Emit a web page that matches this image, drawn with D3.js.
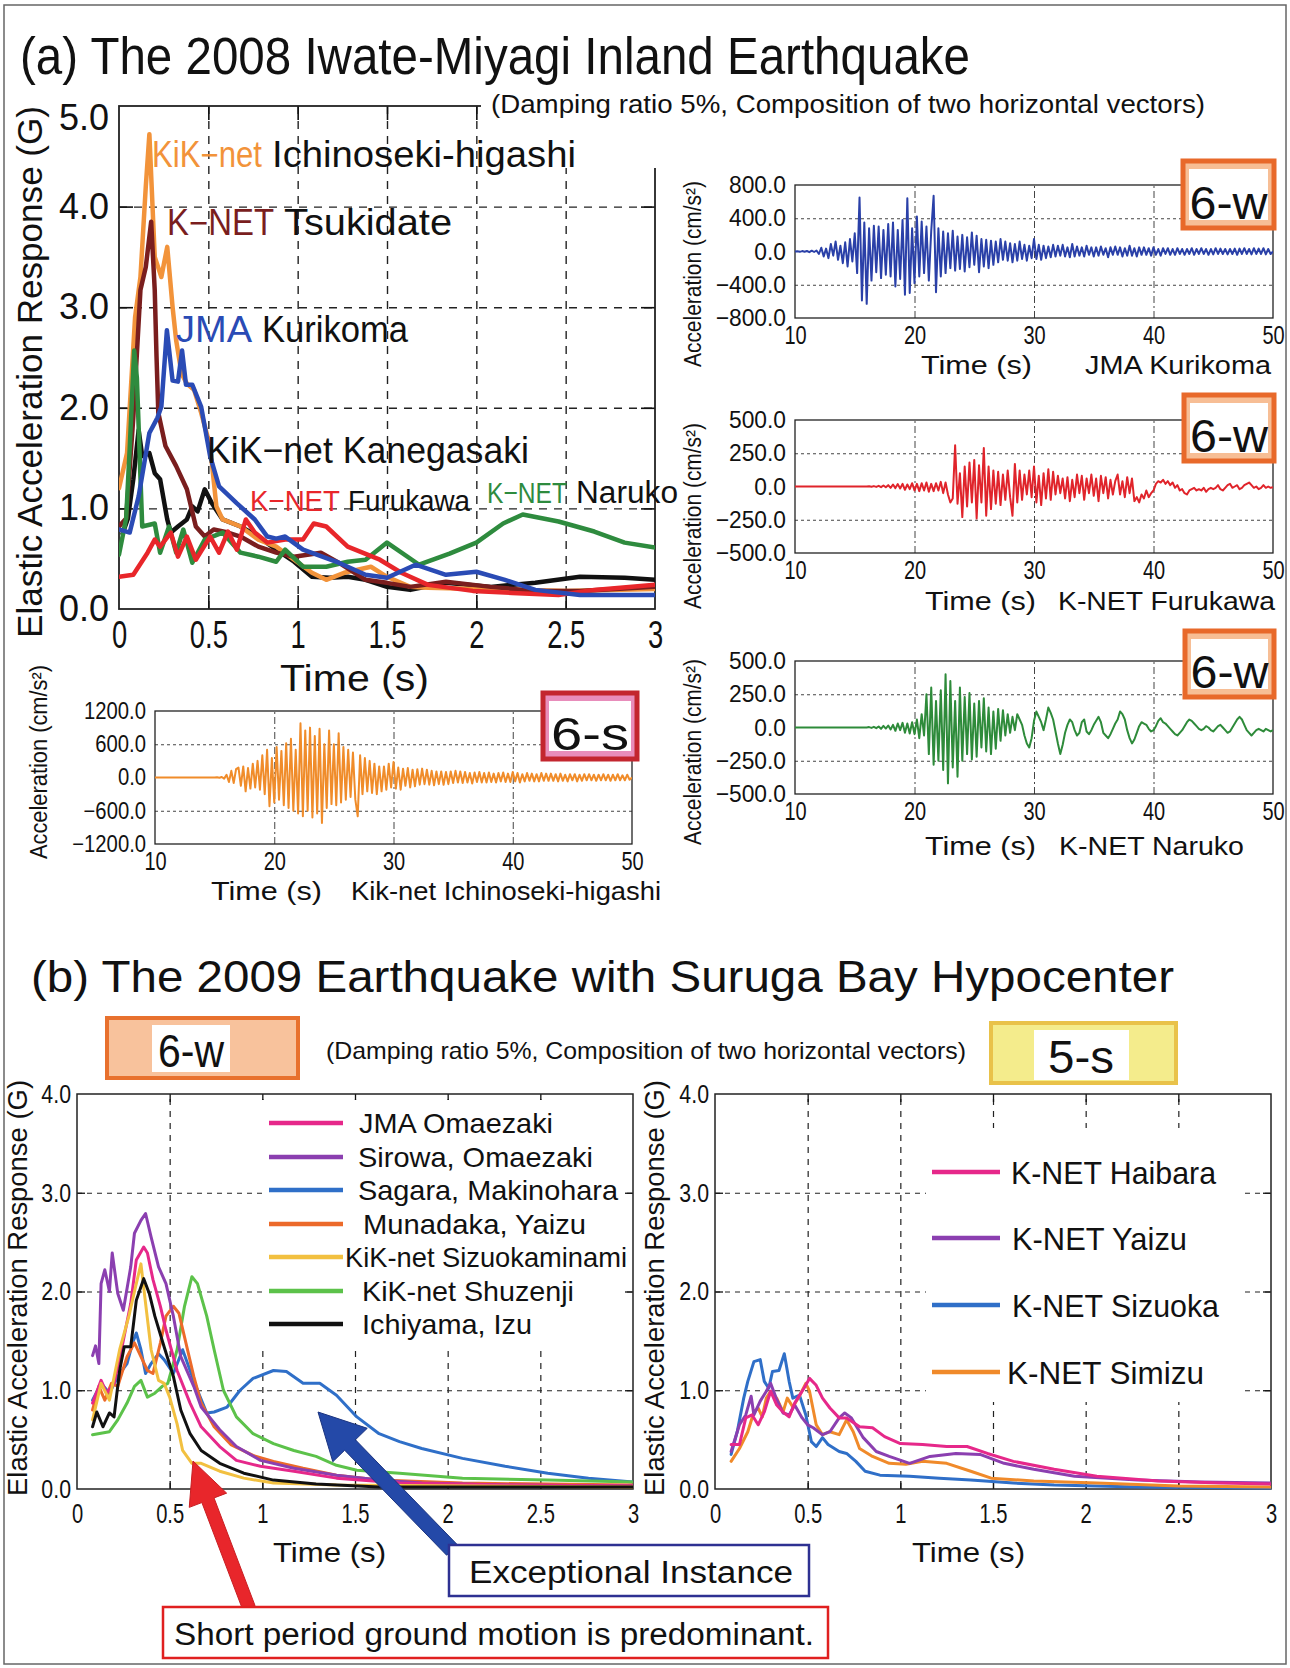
<!DOCTYPE html>
<html><head><meta charset="utf-8">
<script src="https://d3js.org/d3.v7.min.js"></script>
<style>
html,body{margin:0;padding:0;background:#fff;}
svg{display:block;}
text{font-family:"Liberation Sans", Arial, Helvetica, sans-serif;}
</style></head>
<body>
<svg id="fig" width="1290" height="1668" viewBox="0 0 1290 1668"></svg>
<script>
// ================= DATA =================
const periodTicks = [0, 0.5, 1, 1.5, 2, 2.5, 3];
const periodGrid = [0.5, 1, 1.5, 2, 2.5];
const gTicksA = [0, 1, 2, 3, 4, 5];
const gTicksB = [0, 1, 2, 3, 4];
const timeTicks = [10, 20, 30, 40, 50];
const timeGrid = [20, 30, 40];
const accTicks800 = [-800, -400, 0, 400, 800];
const accTicks500 = [-500, -250, 0, 250, 500];
const accTicks1200 = [-1200, -600, 0, 600, 1200];

// (a) 2008 Iwate-Miyagi : response spectra (period s, G)
const ichinosekiT = [0,0.045,0.06,0.09,0.12,0.15,0.17,0.2,0.237,0.27,0.3,0.32,0.35,0.38,0.42,0.46,0.49,0.51,0.545,0.58,0.68,0.78,0.88,0.98,1.08,1.16,1.26,1.41,1.5,1.63,1.73,2.0,2.5,3.0];
const ichinosekiG = [1.2,1.55,2.0,2.9,3.3,4.2,4.72,3.5,3.3,3.6,3.0,2.67,2.34,2.24,2.18,1.95,1.75,1.62,1.02,0.89,0.82,0.69,0.62,0.49,0.36,0.29,0.36,0.42,0.32,0.22,0.21,0.2,0.18,0.2];
const tsukidateT = [0,0.04,0.08,0.12,0.15,0.18,0.2,0.21,0.22,0.26,0.32,0.38,0.43,0.48,0.53,0.61,0.68,0.78,0.88,0.98,1.13,1.23,1.38,1.5,1.63,1.83,2.08,2.33,2.58,3.0];
const tsukidateG = [0.82,0.9,1.9,3.17,3.4,3.85,3.17,2.51,1.95,1.62,1.42,1.19,0.82,0.72,0.79,0.76,0.72,0.62,0.56,0.52,0.56,0.46,0.29,0.26,0.22,0.27,0.22,0.18,0.18,0.22];
const kurikomaT = [0,0.06,0.11,0.17,0.215,0.237,0.268,0.3,0.33,0.353,0.375,0.41,0.46,0.51,0.56,0.66,0.76,0.83,0.88,0.93,1.03,1.23,1.38,1.5,1.66,1.83,2.0,2.16,2.33,2.58,3.0];
const kurikomaG = [0.79,0.76,1.12,1.75,1.9,2.01,2.77,2.27,2.26,2.57,2.23,2.23,2.01,1.52,1.22,1.05,0.89,0.72,0.7,0.72,0.59,0.46,0.34,0.31,0.44,0.34,0.37,0.29,0.19,0.14,0.14];
const kanegasakiT = [0.02,0.05,0.08,0.11,0.13,0.17,0.2,0.23,0.27,0.29,0.33,0.38,0.41,0.44,0.48,0.52,0.58,0.68,0.78,0.88,0.98,1.08,1.18,1.28,1.38,1.5,1.63,1.83,2.08,2.33,2.58,2.83,3.0];
const kanegasakiG = [0.75,0.9,1.29,1.78,1.52,1.55,1.35,1.29,0.89,0.76,0.82,0.89,1.02,0.97,1.19,1.05,0.89,0.82,0.72,0.59,0.47,0.32,0.31,0.32,0.29,0.22,0.19,0.26,0.22,0.26,0.32,0.31,0.29];
const furukawaT = [0,0.08,0.16,0.2,0.23,0.29,0.33,0.38,0.43,0.51,0.56,0.61,0.66,0.71,0.76,0.83,0.93,1.03,1.09,1.16,1.28,1.46,1.58,1.73,1.98,2.2,2.46,2.66,3.0];
const furukawaG = [0.32,0.34,0.56,0.69,0.62,0.76,0.52,0.72,0.49,0.72,0.56,0.77,0.59,0.89,0.76,0.66,0.69,0.69,0.85,0.82,0.62,0.49,0.36,0.24,0.18,0.16,0.14,0.19,0.24];
const narukoT = [0,0.04,0.06,0.085,0.1,0.13,0.2,0.23,0.28,0.32,0.36,0.41,0.48,0.58,0.68,0.78,0.88,0.93,1.03,1.16,1.28,1.38,1.5,1.68,1.85,2.0,2.15,2.26,2.46,2.66,2.83,3.0];
const narukoG = [0.54,0.9,1.6,2.57,2.3,0.82,0.85,0.56,0.82,0.56,0.79,0.46,0.69,0.76,0.56,0.52,0.47,0.59,0.42,0.42,0.47,0.49,0.66,0.44,0.55,0.66,0.85,0.94,0.87,0.77,0.66,0.61];

// (a) acceleration records, 10 s to 50 s, one sample each 0.2 s (cm/s2)
const waveStart = 10, waveStep = 0.2;
const kurikomaWave = [0,3,-4,5,-3, 6,-8,10,-6,12, -30,45,-60,35,-80, 90,-50,120,-100,70, -140,110,-180,150,-120, 220,-260,650,-590,350, -630,280,-350,310,-250, 300,-320,260,-280,330, -300,350,-420,260,-330, 380,-520,640,-500,280, -380,420,-300,360,-260, 300,-350,250,670,-490, 280,-300,240,-260,220, -200,250,-230,180,-210, 200,-240,170,-190,230, -160,190,-250,150,-180, 140,-200,130,-160,120, -130,150,-100,120,-110, 100,-130,90,-110,120, -90,80,-110,70,-80, 150,-90,80,-100,70, -80,60,-70,80,-60, 70,-50,80,-60,50, -70,90,-60,60,-50, 50,-60,70,-40,50, -60,50,-50,60,-40, 40,-70,50,-40,60, -40,50,-60,40,-50, 70,-50,40,-60,50, -40,50,-40,40,-50, 50,-40,30,-50,40, -30,40,-40,30,-40, 40,-30,30,-40,30, -30,40,-40,30,-30, 40,-30,30,-40,30, -35,40,-30,35,-30, 30,-35,30,-30,35, -40,35,-30,40,-30, 30,-35,40,-30,35, -30,40,-35,30,-30, 0];
const furukawaWave = [0,0,0,0,0, 0,0,0,0,0, 0,0,0,0,0, 0,0,0,0,0, 0,0,0,0,0, 0,0,0,0,0, 0,2,-2,3,-3, 5,-5,8,-6,10, -10,15,-12,18,-15, 20,-25,15,-20,25, -30,20,-35,25,-30, 30,-40,20,-35,25, -30,35,-50,30,-60, -120,-90,310,-130,100, -230,150,-150,180,-120, 200,-240,160,-120,290, -220,150,-170,120,-130, 110,-140,90,-100,120, -80,-220,170,-120,120, -100,90,-60,120,-80, 150,-120,80,-140,100, -90,130,-100,110,-60, 80,-50,60,-90,70, -110,50,-80,90,-50, 80,-100,60,-50,90, -70,60,-110,80,-50, 70,-90,50,-60,40, 90,-60,40,-80,70, -50,60,-110,-80,-120, -60,-90,-30,-80,-50, -30,20,40,30,50, 20,40,10,30,-10, 10,-30,-20,-50,-60, -30,-20,-10,-30,-20, -30,-10,-40,-20,-10, -20,-10,10,-20,-30, -10,10,20,-10,0, 10,-20,-10,10,20, 30,10,-10,0,-20, -10,10,-10,0,-10, -5];
const narukoWave = [0,0,0,0,0, 0,0,0,0,0, 0,0,0,0,0, 0,0,0,0,0, 0,0,0,0,0, 0,0,0,0,0, 0,3,-3,5,-5, 8,-10,12,-8,15, -15,20,-25,30,-20, 35,-40,30,-45,40, -50,60,-80,100,-60, 250,-200,300,-280,200, -250,280,-320,400,-420, 350,-300,200,-370,300, -250,230,-200,260,-240, 180,-220,200,-150,220, -180,150,-200,120,-160, 140,-100,130,-60,100, -40,80,-20,100,60, 20,-60,-120,-150,-80, 50,120,80,40,-20, 60,150,110,60,-30, -120,-200,-130,-40,20, 60,40,-20,-60,-40, 40,60,-30,-50,-20, 20,50,80,40,-40, -60,-80,-50,-10,30, 60,120,100,60,-20, -80,-120,-90,-40,10, 40,30,20,-10,-30, -20,10,50,70,40, 30,10,-10,-30,-50, -60,-40,-20,10,40, 60,50,30,10,-10, -20,-10,10,0,-20, -30,-10,10,20,0, -20,-40,-30,0,30, 60,80,60,20,-20, -40,-60,-40,-20,-10, -20,-30,-10,-20,-30, -20];
const ichinosekiWave = [0,0,0,0,0, 0,0,0,0,0, 0,0,0,0,0, 0,0,0,0,0, 0,0,0,0,0, 0,5,-5,10,-20, 50,-80,120,-100,150, 180,-150,200,-250,170, -200,250,-180,300,-220, 400,-300,500,-520,350, -450,550,-400,480,-500, 620,-550,700,-600,500, -650,980,-700,850,-600, 900,-720,750,-650,880, -820,600,-550,850,-480, 600,-500,800,-450,550, -400,500,-350,450,-400, -700,400,-300,350,-250, 300,-280,250,-300,200, -250,200,-220,250,-180, 280,-200,180,-220,160, -150,170,-180,140,-160, 150,-130,160,-120,140, -130,120,-140,110,-120, 110,-130,100,-120,110, -100,120,-90,110,-100, 100,-90,80,-110,90, -80,100,-90,80,-90, 90,-80,70,-90,80, -70,90,-80,70,-80, 100,-70,80,-90,60, -70,80,-60,70,-70, 60,-70,80,-60,70, -60,70,-60,60,-70, 70,-60,50,-70,60, -50,60,-70,50,-60, 60,-50,60,-50,50, -60,50,-50,60,-50, 50,-60,50,-50,60, -50,40,-50,50,-40, 0];

// (b) 2009 Suruga Bay : 6-w group
const omaezakiT = [0.084,0.13,0.16,0.2,0.24,0.29,0.32,0.36,0.38,0.41,0.45,0.48,0.54,0.61,0.67,0.77,0.86,0.99,1.17,1.4,1.74,2.31,3.0];
const omaezakiG = [0.87,1.1,0.97,1.07,1.41,1.88,2.32,2.45,2.39,2.12,1.85,1.61,1.2,0.87,0.63,0.43,0.29,0.23,0.18,0.11,0.06,0.04,0.03];
const sirowaT = [0.084,0.1,0.118,0.13,0.15,0.175,0.19,0.22,0.25,0.29,0.31,0.345,0.37,0.4,0.44,0.48,0.52,0.56,0.63,0.67,0.77,0.86,0.99,1.17,1.4,1.63,1.86,2.31,3.0];
const sirowaG = [1.35,1.45,1.27,2.08,2.22,2.0,2.39,1.98,1.81,2.25,2.59,2.72,2.79,2.55,2.25,2.08,1.75,1.34,1.04,0.83,0.6,0.43,0.29,0.21,0.14,0.09,0.06,0.04,0.03];
const sagaraT = [0.084,0.13,0.175,0.22,0.27,0.3,0.32,0.345,0.37,0.4,0.44,0.47,0.52,0.57,0.61,0.65,0.7,0.74,0.81,0.88,0.95,1.06,1.13,1.22,1.31,1.4,1.51,1.63,1.74,1.86,2.08,2.31,2.54,2.76,3.0];
const sagaraG = [0.9,1.07,0.97,1.14,1.27,1.48,1.58,1.41,1.17,1.27,1.37,1.31,1.17,1.41,1.2,1.0,0.77,0.78,0.83,1.0,1.12,1.2,1.19,1.07,1.07,0.95,0.73,0.56,0.48,0.41,0.31,0.23,0.16,0.11,0.07];
const munadakaT = [0.084,0.118,0.15,0.186,0.22,0.27,0.31,0.345,0.38,0.41,0.45,0.48,0.52,0.55,0.58,0.63,0.67,0.74,0.83,0.95,1.06,1.22,1.4,1.63,2.08,3.0];
const munadakaG = [0.8,1.04,0.9,1.07,1.04,1.34,1.48,1.34,1.2,1.17,1.48,1.75,1.85,1.78,1.54,1.14,0.87,0.63,0.45,0.34,0.28,0.21,0.14,0.09,0.06,0.04];
const sizuokaminamiT = [0.084,0.13,0.175,0.23,0.28,0.31,0.345,0.37,0.4,0.44,0.47,0.5,0.54,0.57,0.62,0.67,0.77,0.9,1.06,1.4,3.0];
const sizuokaminamiG = [0.7,1.07,0.9,1.41,1.75,2.0,2.28,1.88,1.41,1.1,1.07,0.93,0.66,0.39,0.26,0.26,0.18,0.11,0.06,0.04,0.02];
const shuzenjiT = [0.084,0.175,0.22,0.27,0.31,0.345,0.38,0.42,0.46,0.49,0.54,0.58,0.62,0.65,0.7,0.74,0.79,0.86,0.95,1.06,1.17,1.29,1.4,1.51,1.74,2.08,2.54,3.0];
const shuzenjiG = [0.55,0.58,0.7,0.87,1.04,1.1,0.93,0.97,1.04,1.07,1.41,1.85,2.15,2.08,1.75,1.41,1.0,0.73,0.56,0.46,0.39,0.33,0.24,0.19,0.16,0.11,0.09,0.07];
const ichiyamaT = [0.084,0.107,0.14,0.175,0.2,0.23,0.255,0.29,0.32,0.36,0.39,0.42,0.47,0.52,0.56,0.61,0.67,0.77,0.9,1.06,1.29,1.63,3.0];
const ichiyamaG = [0.63,0.78,0.63,0.77,0.73,1.2,1.44,1.44,1.91,2.13,1.98,1.75,1.44,1.14,0.8,0.56,0.39,0.26,0.16,0.09,0.05,0.02,0.02];

// (b) 5-s group
const haibaraT = [0.087,0.132,0.166,0.2,0.233,0.266,0.3,0.333,0.367,0.4,0.43,0.48,0.51,0.546,0.58,0.62,0.67,0.71,0.78,0.85,0.915,1.0,1.12,1.25,1.36,1.47,1.61,1.83,2.06,2.39,2.73,3.0];
const haibaraG = [0.45,0.45,0.72,0.75,0.65,0.78,0.99,0.85,0.78,0.73,0.87,1.02,1.12,1.05,0.92,0.82,0.72,0.72,0.63,0.62,0.53,0.46,0.45,0.43,0.43,0.36,0.28,0.2,0.13,0.08,0.06,0.05];
const yaizuT = [0.087,0.132,0.166,0.195,0.21,0.244,0.277,0.3,0.33,0.367,0.4,0.43,0.47,0.5,0.53,0.58,0.62,0.67,0.7,0.736,0.8,0.87,0.94,1.05,1.16,1.3,1.43,1.56,1.72,1.94,2.28,2.62,3.0];
const yaizuG = [0.38,0.65,0.75,0.94,0.75,0.89,0.99,1.07,0.92,0.77,0.75,0.85,0.72,0.65,0.62,0.55,0.58,0.72,0.77,0.72,0.52,0.38,0.33,0.26,0.33,0.36,0.35,0.26,0.2,0.13,0.09,0.07,0.06];
const sizuokaT = [0.087,0.12,0.155,0.177,0.21,0.244,0.266,0.29,0.31,0.345,0.374,0.4,0.42,0.456,0.49,0.52,0.546,0.58,0.61,0.67,0.71,0.76,0.81,0.89,1.05,1.21,1.38,1.61,1.83,2.28,3.0];
const sizuokaG = [0.35,0.58,0.92,1.09,1.29,1.31,1.09,1.02,1.19,1.2,1.37,1.09,0.92,0.95,0.75,0.48,0.43,0.52,0.45,0.38,0.36,0.28,0.18,0.14,0.13,0.11,0.09,0.06,0.04,0.02,0.01];
const simizuT = [0.087,0.132,0.177,0.21,0.233,0.255,0.277,0.3,0.333,0.367,0.39,0.42,0.455,0.49,0.51,0.546,0.58,0.62,0.67,0.71,0.746,0.78,0.85,0.94,1.03,1.12,1.25,1.38,1.49,1.72,2.06,2.5,3.0];
const simizuG = [0.28,0.41,0.58,0.78,0.82,0.73,0.92,0.99,0.92,0.78,0.92,0.83,0.94,1.07,0.99,0.65,0.55,0.58,0.55,0.7,0.58,0.41,0.33,0.26,0.25,0.28,0.26,0.18,0.11,0.08,0.06,0.03,0.02];

const legendB1 = ["JMA Omaezaki","Sirowa, Omaezaki","Sagara, Makinohara","Munadaka, Yaizu","KiK-net Sizuokaminami","KiK-net Shuzenji","Ichiyama, Izu"];
const legendB2 = ["K-NET Haibara","K-NET Yaizu","K-NET Sizuoka","K-NET Simizu"];

// ================= DRAWING =================
const FONT = '"Liberation Sans", Arial, Helvetica, sans-serif';
const svg = d3.select("#fig");
svg.append("rect").attr("width",1290).attr("height",1668).attr("fill","#fff");
svg.append("rect").attr("x",4).attr("y",5).attr("width",1282).attr("height",1659)
  .attr("fill","none").attr("stroke","#666").attr("stroke-width",1.5);

function txt(x, y, s, size, o = {}) {
  const t = svg.append("text").attr("x", x).attr("y", y).attr("font-size", size)
    .attr("font-family", FONT).attr("fill", o.fill || "#111");
  if (o.len) t.attr("textLength", o.len).attr("lengthAdjust", "spacingAndGlyphs");
  if (o.anchor) t.attr("text-anchor", o.anchor);
  if (o.rot) t.attr("transform", `rotate(-90,${x},${y})`);
  t.text(s);
  return t;
}
function styleTickText(sel, size, sx) {
  sel.select(".domain").remove();
  sel.selectAll(".tick line").remove();
  sel.selectAll(".tick text").attr("font-size", size).attr("font-family", FONT).attr("fill", "#111")
    .each(function () {
      if (sx !== 1) {
        const t = d3.select(this);
        const xv = +(t.attr("x") || 0);
        t.attr("x", xv / sx).attr("transform", `scale(${sx},1)`);
      }
    });
}
function grid(g, x, y, xg, yg, st) {
  const [X0, X1] = x.range(), [Y0, Y1] = y.range();
  g.append("g").attr("transform", `translate(0,${Y0})`)
    .call(d3.axisBottom(x).tickValues(xg).tickSize(-(Y0 - Y1)).tickFormat(""))
    .call(s => { s.select(".domain").remove();
      s.selectAll(".tick line").attr("stroke", st.c).attr("stroke-width", st.w).attr("stroke-dasharray", st.vd); });
  g.append("g").attr("transform", `translate(${X0},0)`)
    .call(d3.axisLeft(y).tickValues(yg).tickSize(-(X1 - X0)).tickFormat(""))
    .call(s => { s.select(".domain").remove();
      s.selectAll(".tick line").attr("stroke", st.c).attr("stroke-width", st.w).attr("stroke-dasharray", st.hd); });
}
function innerTicks(g, x, y, xv, yv, len, w) {
  const [X0, X1] = x.range(), [Y0, Y1] = y.range();
  const st = s => { s.select(".domain").remove(); s.selectAll(".tick line").attr("stroke", "#111").attr("stroke-width", w); };
  g.append("g").attr("transform", `translate(${X0},0)`).call(d3.axisLeft(y).tickValues(yv).tickSize(-len).tickFormat("")).call(st);
  g.append("g").attr("transform", `translate(${X1},0)`).call(d3.axisRight(y).tickValues(yv).tickSize(-len).tickFormat("")).call(st);
  g.append("g").attr("transform", `translate(0,${Y0})`).call(d3.axisBottom(x).tickValues(xv).tickSize(-len).tickFormat("")).call(st);
  g.append("g").attr("transform", `translate(0,${Y1})`).call(d3.axisTop(x).tickValues(xv).tickSize(-len).tickFormat("")).call(st);
}
function frame(g, x, y, w) {
  const [X0, X1] = x.range(), [Y0, Y1] = y.range();
  g.append("rect").attr("x", X0).attr("y", Y1).attr("width", X1 - X0).attr("height", Y0 - Y1)
    .attr("fill", "none").attr("stroke", "#222").attr("stroke-width", w);
}
let clipN = 0;
function clipFor(g, x, y) {
  const [X0, X1] = x.range(), [Y0, Y1] = y.range();
  const id = "clip" + (clipN++);
  svg.append("clipPath").attr("id", id).append("rect").attr("x", X0).attr("y", Y1 - 2).attr("width", X1 - X0).attr("height", Y0 - Y1 + 4);
  return g.append("g").attr("clip-path", `url(#${id})`);
}
function drawSeries(g, x, y, T, G, color, w) {
  const line = d3.line().x(d => x(d[0])).y(d => y(d[1]));
  g.append("path").datum(d3.zip(T, G)).attr("d", line).attr("fill", "none")
    .attr("stroke", color).attr("stroke-width", w).attr("stroke-linejoin", "round").attr("stroke-linecap", "round");
}

// ---------- (a) titles ----------
txt(20, 74, "(a) The 2008 Iwate-Miyagi Inland Earthquake", 51, { len: 950 });

// ---------- (a) main spectrum ----------
{
  const x = d3.scaleLinear().domain([0, 3]).range([119, 655]);
  const y = d3.scaleLinear().domain([0, 5]).range([609, 106]);
  const g = svg.append("g");
  grid(g, x, y, periodGrid, [1, 2, 3, 4], { c: "#222", w: 1.4, vd: "8,7", hd: "8,7" });
  innerTicks(g, x, y, periodGrid, [1, 2, 3, 4], 14, 1.6);
  frame(g, x, y, 1.8);
  g.append("rect").attr("x", 481).attr("y", 98).attr("width", 180).attr("height", 70).attr("fill", "#fff");
  g.append("g").attr("transform", "translate(119,0)")
    .call(d3.axisLeft(y).tickValues(gTicksA).tickFormat(d3.format(".1f")).tickSize(0).tickPadding(10))
    .call(s => styleTickText(s, 36, 1))
    .call(s => s.selectAll(".tick").filter(d => d === 5).select("text").attr("dy", "0.66em"));
  g.append("g").attr("transform", "translate(0,609)")
    .call(d3.axisBottom(x).tickValues(periodTicks).tickFormat(d3.format("~g")).tickSize(0).tickPadding(12))
    .call(s => styleTickText(s, 38, 0.72));
  const c = clipFor(g, x, y);
  drawSeries(c, x, y, kanegasakiT, kanegasakiG, "#111111", 4.5);
  drawSeries(c, x, y, ichinosekiT, ichinosekiG, "#F2933A", 4.5);
  drawSeries(c, x, y, tsukidateT, tsukidateG, "#7A1E1E", 4.5);
  drawSeries(c, x, y, narukoT, narukoG, "#2E8B3E", 4.5);
  drawSeries(c, x, y, furukawaT, furukawaG, "#E8262A", 4.5);
  drawSeries(c, x, y, kurikomaT, kurikomaG, "#2A4BB5", 4.5);

  txt(491, 113, "(Damping ratio 5%, Composition of two horizontal vectors)", 25, { len: 714 });
  txt(152, 167, "KiK−net", 36, { fill: "#F2933A", len: 110 });
  txt(272, 167, "Ichinoseki-higashi", 37, { len: 304 });
  txt(167, 235, "K−NET", 36, { fill: "#7A1E1E", len: 107 });
  txt(284, 235, "Tsukidate", 37, { len: 168 });
  txt(176, 342, "JMA", 36, { fill: "#2A4BB5", len: 76 });
  txt(262, 342, "Kurikoma", 37, { len: 146 });
  txt(207, 463, "KiK−net Kanegasaki", 37, { len: 322 });
  txt(250, 511, "K−NET", 30, { fill: "#E8262A", len: 90 });
  txt(348, 511, "Furukawa", 29, { len: 122 });
  txt(487, 503, "K−NET", 30, { fill: "#2E8B3E", len: 80 });
  txt(576, 503, "Naruko", 31, { len: 102 });
  txt(280, 691, "Time (s)", 37, { len: 149 });
  txt(42, 372, "Elastic Acceleration Response (G)", 35, { len: 532, anchor: "middle", rot: true });
}

// ---------- (a) acceleration records ----------
function wavePanel(cfg) {
  const x = d3.scaleLinear().domain([10, 50]).range([cfg.x0, cfg.x1]);
  const y = d3.scaleLinear().domain([cfg.ticks[0], cfg.ticks[4]]).range([cfg.yb, cfg.yt]);
  const g = svg.append("g");
  grid(g, x, y, timeGrid, [cfg.ticks[1], cfg.ticks[3]], { c: "#444", w: 1, vd: "7,3,2,3", hd: "3,3" });
  frame(g, x, y, 1.3);
  g.append("g").attr("transform", `translate(${cfg.x0},0)`)
    .call(d3.axisLeft(y).tickValues(cfg.ticks).tickFormat(d3.format(".1f")).tickSize(0).tickPadding(9))
    .call(s => styleTickText(s, cfg.fs, cfg.sx));
  g.append("g").attr("transform", `translate(0,${cfg.yb})`)
    .call(d3.axisBottom(x).tickValues(timeTicks).tickFormat(d3.format("d")).tickSize(0).tickPadding(8))
    .call(s => styleTickText(s, 25, 0.8));
  const c = clipFor(g, x, y);
  const pts = cfg.values.map((v, i) => [waveStart + i * waveStep, v]);
  c.append("path").datum(pts).attr("d", d3.line().x(d => x(d[0])).y(d => y(d[1])))
    .attr("fill", "none").attr("stroke", cfg.color).attr("stroke-width", 2).attr("stroke-linejoin", "round");
  txt(cfg.tx, cfg.ty, "Time  (s)", 25, { len: 111 });
  txt(cfg.nx, cfg.ty, cfg.name, 25, { len: cfg.nlen });
  txt(cfg.lx, cfg.ly, "Acceleration (cm/s²)", 23, { len: cfg.llen, anchor: "middle", rot: true });
  // class box
  const b = cfg.box;
  svg.append("rect").attr("x", b[0]).attr("y", b[1]).attr("width", b[2] - b[0]).attr("height", b[3] - b[1])
    .attr("fill", cfg.band).attr("stroke", cfg.edge).attr("stroke-width", 5);
  svg.append("rect").attr("x", b[0] + 6).attr("y", b[1] + 8).attr("width", b[2] - b[0] - 12).attr("height", b[3] - b[1] - 16)
    .attr("fill", "#fff");
  txt((b[0] + b[2]) / 2, b[3] - 9, cfg.label, 46, { anchor: "middle", len: 78 });
}
wavePanel({ x0: 795, x1: 1273, yt: 185, yb: 318, ticks: accTicks800, fs: 24, sx: 0.95, values: kurikomaWave, color: "#2A40A8",
  tx: 921, ty: 374, nx: 1085, name: "JMA Kurikoma", nlen: 186, lx: 701, ly: 274, llen: 186,
  box: [1183, 161, 1274, 228], band: "#F7BE95", edge: "#E8692A", label: "6-w" });
wavePanel({ x0: 795, x1: 1273, yt: 420, yb: 553, ticks: accTicks500, fs: 24, sx: 0.95, values: furukawaWave, color: "#E0242B",
  tx: 925, ty: 610, nx: 1058, name: "K-NET Furukawa", nlen: 217, lx: 701, ly: 516, llen: 186,
  box: [1184, 395, 1274, 461], band: "#F7BE95", edge: "#E8692A", label: "6-w" });
wavePanel({ x0: 795, x1: 1273, yt: 661, yb: 794, ticks: accTicks500, fs: 24, sx: 0.95, values: narukoWave, color: "#2E8B3A",
  tx: 925, ty: 855, nx: 1059, name: "K-NET Naruko", nlen: 185, lx: 701, ly: 752, llen: 186,
  box: [1185, 631, 1274, 697], band: "#F7BE95", edge: "#E8692A", label: "6-w" });
wavePanel({ x0: 155, x1: 632, yt: 711, yb: 844, ticks: accTicks1200, fs: 23, sx: 0.88, values: ichinosekiWave, color: "#F08C2A",
  tx: 211, ty: 900, nx: 351, name: "Kik-net Ichinoseki-higashi", nlen: 310, lx: 47, ly: 762, llen: 194,
  box: [543, 693, 637, 759], band: "#E88DBB", edge: "#C3262F", label: "6-s" });

// ---------- (b) ----------
txt(31, 992, "(b) The 2009 Earthquake with Suruga Bay Hypocenter", 45, { len: 1143 });
txt(326, 1059, "(Damping ratio 5%, Composition of two horizontal vectors)", 24, { len: 640 });
// class boxes
svg.append("rect").attr("x", 107).attr("y", 1018).attr("width", 191).attr("height", 60).attr("fill", "#F8C29C").attr("stroke", "#E8712E").attr("stroke-width", 4);
svg.append("rect").attr("x", 152).attr("y", 1025).attr("width", 78).attr("height", 47).attr("fill", "#fff");
txt(191, 1067, "6-w", 46, { anchor: "middle", len: 66 });
svg.append("rect").attr("x", 991).attr("y", 1023).attr("width", 185).attr("height", 60).attr("fill", "#F4EC8C").attr("stroke", "#E9C24A").attr("stroke-width", 4);
svg.append("rect").attr("x", 1034).attr("y", 1030).attr("width", 95).attr("height", 50).attr("fill", "#fff");
txt(1081, 1073, "5-s", 46, { anchor: "middle", len: 66 });

function spectrumB(cfg) {
  const x = d3.scaleLinear().domain([0, 3]).range([cfg.x0, cfg.x1]);
  const y = d3.scaleLinear().domain([0, 4]).range([cfg.yb, cfg.yt]);
  const g = svg.append("g");
  grid(g, x, y, periodGrid, [1, 2, 3], { c: "#222", w: 1.2, vd: "6,6", hd: "5,5" });
  innerTicks(g, x, y, periodGrid, [1, 2, 3], 8, 1.3);
  frame(g, x, y, 1.5);
  g.append("rect").attr("x", cfg.lg[0]).attr("y", cfg.lg[1]).attr("width", cfg.lg[2] - cfg.lg[0]).attr("height", cfg.lg[3] - cfg.lg[1]).attr("fill", "#fff");
  g.append("g").attr("transform", `translate(${cfg.x0},0)`)
    .call(d3.axisLeft(y).tickValues(gTicksB).tickFormat(d3.format(".1f")).tickSize(0).tickPadding(6))
    .call(s => styleTickText(s, 26, 0.82));
  g.append("g").attr("transform", `translate(0,${cfg.yb})`)
    .call(d3.axisBottom(x).tickValues(periodTicks).tickFormat(d3.format("~g")).tickSize(0).tickPadding(14))
    .call(s => styleTickText(s, 28, 0.72));
  const c = clipFor(g, x, y);
  cfg.series.forEach(s => drawSeries(c, x, y, s[0], s[1], s[2], 3));
  cfg.legend.forEach((name, i) => {
    const L = cfg.leg[i];
    g.append("line").attr("x1", cfg.lx0).attr("x2", cfg.lx1).attr("y1", L[0]).attr("y2", L[0])
      .attr("stroke", cfg.lcol[i]).attr("stroke-width", cfg.lw);
    txt(L[1], L[0] + cfg.fs * 0.36, name, cfg.fs, { len: L[2] });
  });
  txt(cfg.tlx, 1562, "Time  (s)", 28, { len: 113 });
  txt(cfg.ylx, 1288, "Elastic Acceleration Response (G)", 27, { len: 416, anchor: "middle", rot: true });
}
const colB1 = ["#E6288A", "#8B3FB0", "#2F6FC8", "#EC6A2A", "#F2C040", "#5CC24A", "#111111"];
spectrumB({ x0: 77, x1: 633, yt: 1094, yb: 1489, lg: [262, 1100, 622, 1345],
  series: [[sagaraT, sagaraG, colB1[2]], [shuzenjiT, shuzenjiG, colB1[5]], [munadakaT, munadakaG, colB1[3]],
           [sirowaT, sirowaG, colB1[1]], [omaezakiT, omaezakiG, colB1[0]], [sizuokaminamiT, sizuokaminamiG, colB1[4]],
           [ichiyamaT, ichiyamaG, colB1[6]]],
  legend: legendB1, lcol: colB1, lx0: 269, lx1: 343, lw: 4.5, fs: 28,
  leg: [[1123, 359, 194], [1157, 358, 235], [1190, 358, 260], [1224, 363, 223], [1257, 345, 282], [1291, 362, 212], [1324, 362, 170]],
  tlx: 273, ylx: 27 });
const colB2 = ["#E6288A", "#8B3FB0", "#2F6FC8", "#F08A2A"];
spectrumB({ x0: 715, x1: 1271, yt: 1094, yb: 1489, lg: [926, 1128, 1240, 1402],
  series: [[sizuokaT, sizuokaG, colB2[2]], [simizuT, simizuG, colB2[3]], [yaizuT, yaizuG, colB2[1]], [haibaraT, haibaraG, colB2[0]]],
  legend: legendB2, lcol: colB2, lx0: 932, lx1: 1000, lw: 4.5, fs: 32,
  leg: [[1172, 1011, 205], [1238, 1012, 175], [1305, 1012, 207], [1372, 1007, 197]],
  tlx: 912, ylx: 664 });

// ---------- annotations ----------
function arrow(tx, ty, hx, hy, sw, hl, hw, fill, stroke) {
  const dx = hx - tx, dy = hy - ty, L = Math.hypot(dx, dy), ux = dx / L, uy = dy / L, px = -uy, py = ux;
  const bx = hx - ux * hl, by = hy - uy * hl;
  const p = [[tx + px * sw / 2, ty + py * sw / 2], [bx + px * sw / 2, by + py * sw / 2], [bx + px * hw / 2, by + py * hw / 2],
             [hx, hy], [bx - px * hw / 2, by - py * hw / 2], [bx - px * sw / 2, by - py * sw / 2], [tx - px * sw / 2, ty - py * sw / 2]];
  svg.append("path").attr("d", d3.line()(p) + "Z").attr("fill", fill).attr("stroke", stroke).attr("stroke-width", 1);
}
arrow(452, 1550, 318, 1412, 15, 46, 48, "#2449A8", "#1B3480");
arrow(249, 1608, 193, 1461, 13, 42, 40, "#E8262B", "#C81E22");
svg.append("rect").attr("x", 449).attr("y", 1545).attr("width", 360).attr("height", 51).attr("fill", "#fff").attr("stroke", "#2E3192").attr("stroke-width", 2.5);
txt(469, 1583, "Exceptional Instance", 31, { len: 324 });
svg.append("rect").attr("x", 163).attr("y", 1607).attr("width", 665).attr("height", 51).attr("fill", "#fff").attr("stroke", "#E02020").attr("stroke-width", 2.5);
txt(174, 1645, "Short period ground motion is predominant.", 31, { len: 640 });
</script>
</body></html>
